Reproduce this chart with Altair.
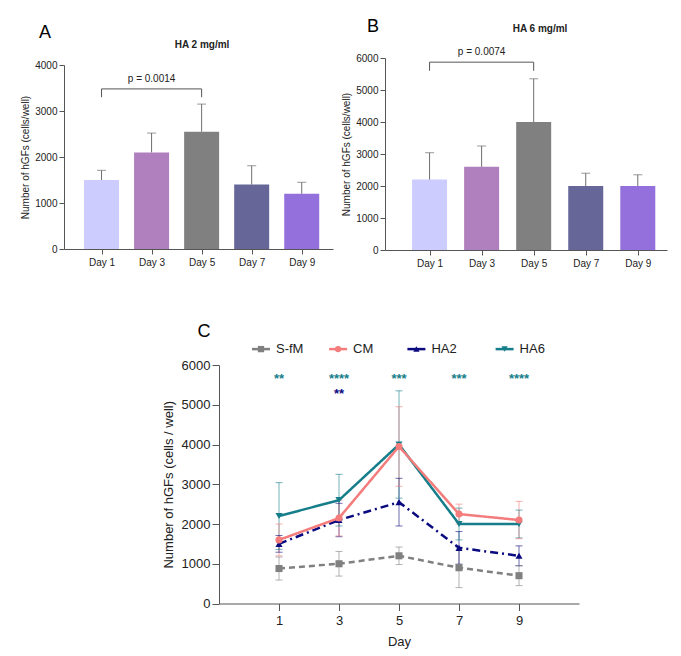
import altair as alt
import pandas as pd

# ---------------- data ----------------
days = [1, 3, 5, 7, 9]
day_colors = ["#CCCCFF", "#B07FBD", "#808080", "#666699", "#9370DB"]

ha2_mean = [1500, 2100, 2550, 1400, 1200]
ha2_sd = [210, 420, 600, 410, 250]
ha6_mean = [2200, 2600, 4000, 2000, 2000]
ha6_sd = [840, 650, 1350, 400, 350]
sfm_mean = [880, 1000, 1200, 900, 700]
sfm_sd = [290, 310, 220, 500, 250]
cm_mean = [1600, 2150, 3950, 2250, 2100]
cm_sd = [400, 450, 1000, 250, 470]

series_names = ["S-fM", "CM", "HA2", "HA6"]
series_colors = ["#808080", "#F47C7C", "#0A0A80", "#167E8A"]
series_dash = [[6, 4], [1, 0], [8, 4, 2, 4], [1, 0]]
series_shapes = ["square", "circle", "triangle-up", "triangle-down"]
draw_order = ["S-fM", "HA2", "HA6", "CM"]  # CM drawn on top

stars_ha6 = ["**", "****", "***", "***", "****"]
stars_ha2 = ["", "**", "", "", ""]

bracket_a = {"x1": 1, "x2": 5, "y": 3480, "tip": 3300, "label": "p = 0.0014"}
bracket_b = {"x1": 1, "x2": 5, "y": 5870, "tip": 5600, "label": "p = 0.0074"}

# ---------------- layout / style ----------------
W, H = 681, 656
FONT = "Liberation Sans"
AXC = "#555555"
ERR = "#6E6E6E"
TXT = "#222222"

# legend slots for panel C (in panel-C x units), and legend row height
legend_slots = [0.4, 2.97, 5.58, 8.52]
legend_half = 0.3
legend_row_y = 6400
star_row_y = {"HA6": 5750, "HA2": 5370}


def bar_panel(mean, sd, br, xdom, xr, yr, ymax, title, letter, title_pos, letter_pos):
    df = pd.DataFrame({"day": days, "mean": mean, "sd": sd, "color": day_colors})
    df["top"] = df["mean"] + df["sd"]
    xs = alt.Scale(domain=xdom, range=xr, nice=False, zero=False)
    ys = alt.Scale(domain=[0, ymax], range=yr, nice=False)
    xaxis = alt.Axis(orient="bottom", offset=yr[0] - H, values=days,
                     labelExpr="'Day ' + datum.label", title=None, tickSize=5,
                     labelFontSize=10, labelPadding=3, labelFlush=False)
    yaxis = alt.Axis(orient="left", offset=-xr[0], values=list(range(0, ymax + 1, 1000)),
                     format="d", title="Number of hGFs (cells/well)", tickSize=5,
                     labelFontSize=10, labelPadding=2, titleFontSize=10, titlePadding=4)

    def X(f):
        return alt.X(f, scale=xs, axis=xaxis)

    def Y(f, **kw):
        return alt.Y(f, scale=ys, axis=yaxis, **kw)

    base = alt.Chart(df)
    bars = base.mark_bar(size=35).encode(
        x=X("day:Q"), y=Y("mean:Q", stack=None),
        color=alt.Color("color:N", scale=None),
    )
    err = base.mark_rule(color=ERR, strokeWidth=1).encode(
        x=X("day:Q"), y=Y("mean:Q"), y2="top:Q")
    cap = base.mark_tick(orient="horizontal", size=9, thickness=1, color=ERR).encode(
        x=X("day:Q"), y=Y("top:Q"))
    bdf = pd.DataFrame([br])
    hline = alt.Chart(bdf).mark_rule(color=AXC, strokeWidth=1).encode(
        x=X("x1:Q"), x2="x2:Q", y=Y("y:Q"))
    tdf = pd.DataFrame({"x": [br["x1"], br["x2"]], "lo": [br["tip"]] * 2, "hi": [br["y"]] * 2})
    tips = alt.Chart(tdf).mark_rule(color=AXC, strokeWidth=1).encode(
        x=X("x:Q"), y=Y("lo:Q"), y2="hi:Q")
    ptxt = alt.Chart(bdf).transform_calculate(mid="(datum.x1 + datum.x2) / 2").mark_text(
        dy=-10, fontSize=10, color=TXT, baseline="middle"
    ).encode(x=X("mid:Q"), y=Y("y:Q"), text="label:N")
    tt = alt.Chart(pd.DataFrame({"t": [title]})).mark_text(
        fontSize=10, fontWeight="bold", color=TXT, baseline="middle"
    ).encode(text="t:N", x=alt.value(title_pos[0]), y=alt.value(title_pos[1]))
    lt = alt.Chart(pd.DataFrame({"t": [letter]})).mark_text(
        fontSize=18, color="#000000", baseline="middle"
    ).encode(text="t:N", x=alt.value(letter_pos[0]), y=alt.value(letter_pos[1]))
    return alt.layer(bars, err, cap, hline, tips, ptxt, tt, lt)


panel_a = bar_panel(ha2_mean, ha2_sd, bracket_a, [-0.3, 10.05], [64, 333], [249, 65], 4000,
                    "HA 2 mg/ml", "A", (202, 45), (45, 33))
panel_b = bar_panel(ha6_mean, ha6_sd, bracket_b, [-0.52, 9.93], [385, 667], [250, 58], 6000,
                    "HA 6 mg/ml", "B", (540, 29), (373, 27))

# ---------------- panel C ----------------
series_data = {
    "S-fM": (sfm_mean, sfm_sd), "CM": (cm_mean, cm_sd),
    "HA2": (ha2_mean, ha2_sd), "HA6": (ha6_mean, ha6_sd),
}
rows = []
for name in draw_order:
    m, s = series_data[name]
    for d, mv, sv in zip(days, m, s):
        rows.append({"series": name, "day": d, "mean": mv, "lo": mv - sv, "hi": mv + sv})
dfc = pd.DataFrame(rows)

cxr, cyr = [219, 579], [603.5, 365]
cxs = alt.Scale(domain=[-1, 11], range=cxr, nice=False, zero=False)
cys = alt.Scale(domain=[0, 6000], range=cyr, nice=False)
cscale = alt.Scale(domain=series_names, range=series_colors)
dscale = alt.Scale(domain=series_names, range=series_dash)
sscale = alt.Scale(domain=series_names, range=series_shapes)

cx_axis = alt.Axis(orient="bottom", offset=cyr[0] - H, values=days, title="Day", tickSize=7,
                   labelFontSize=13, labelPadding=4, titleFontSize=13, titlePadding=8,
                   labelFlush=False)
cy_axis = alt.Axis(orient="left", offset=-cxr[0], values=list(range(0, 6001, 1000)),
                   format="d", title="Number of hGFs (cells / well)", tickSize=7,
                   labelFontSize=13, labelPadding=2, titleFontSize=13, titlePadding=6)


def cx(field):
    return alt.X(field, scale=cxs, axis=cx_axis)


def cy(field):
    return alt.Y(field, scale=cys, axis=cy_axis)


ccol = alt.Color("series:N", scale=cscale, legend=None)

basec = alt.Chart(dfc)
c_err = basec.mark_rule(strokeWidth=1, opacity=0.6).encode(
    x=cx("day:Q"), y=cy("lo:Q"), y2="hi:Q", color=ccol)
c_cap_lo = basec.mark_tick(orient="horizontal", size=7, thickness=1, opacity=0.6).encode(
    x=cx("day:Q"), y=cy("lo:Q"), color=ccol)
c_cap_hi = basec.mark_tick(orient="horizontal", size=7, thickness=1, opacity=0.6).encode(
    x=cx("day:Q"), y=cy("hi:Q"), color=ccol)
c_line = basec.mark_line(strokeWidth=2.5).encode(
    x=cx("day:Q"), y=cy("mean:Q"), color=ccol,
    strokeDash=alt.StrokeDash("series:N", scale=dscale, legend=None),
)
c_pts = basec.mark_point(filled=True, size=50, opacity=1).encode(
    x=cx("day:Q"), y=cy("mean:Q"), color=ccol,
    shape=alt.Shape("series:N", scale=sscale, legend=None),
)

star_df = pd.DataFrame({
    "day": days * 2,
    "txt": stars_ha6 + stars_ha2,
    "series": ["HA6"] * 5 + ["HA2"] * 5,
})
c_stars = alt.Chart(star_df).transform_calculate(
    y=f"datum.series === 'HA6' ? {star_row_y['HA6']} : {star_row_y['HA2']}"
).mark_text(fontSize=13, fontWeight="bold", baseline="middle", dy=4).encode(
    x=cx("day:Q"), y=cy("y:Q"), text="txt:N", color=ccol,
)

# legend (line + marker + label)
leg_df = pd.DataFrame({"series": series_names, "lx": legend_slots})
leg_base = alt.Chart(leg_df).transform_calculate(
    l0=f"datum.lx - {legend_half}", l1=f"datum.lx + {legend_half}", ly=f"{legend_row_y}"
)
leg_line = leg_base.mark_rule(strokeWidth=2.5).encode(
    x=cx("l0:Q"), x2="l1:Q", y=cy("ly:Q"), color=ccol)
leg_pt = leg_base.mark_point(filled=True, size=40, opacity=1).encode(
    x=cx("lx:Q"), y=cy("ly:Q"), color=ccol,
    shape=alt.Shape("series:N", scale=sscale, legend=None))
leg_txt = leg_base.mark_text(align="left", baseline="middle", dx=15, fontSize=13, color=TXT).encode(
    x=cx("lx:Q"), y=cy("ly:Q"), text="series:N")

c_letter = alt.Chart(pd.DataFrame({"t": ["C"]})).mark_text(
    fontSize=18, color="#000000", baseline="middle"
).encode(text="t:N", x=alt.value(204), y=alt.value(332))

panel_c = alt.layer(c_err, c_cap_lo, c_cap_hi, c_line, c_pts, c_stars,
                    leg_line, leg_pt, leg_txt, c_letter)

chart = alt.layer(panel_a, panel_b, panel_c).resolve_scale(
    x="independent", y="independent"
).properties(
    width=W, height=H, autosize=alt.AutoSizeParams(type="none"), padding=0,
    background="white",
).configure(font=FONT).configure_view(stroke=None).configure_axis(
    domainColor=AXC, tickColor=AXC, labelColor=TXT, titleColor=TXT,
    titleFontWeight="normal", grid=False, labelFont=FONT, titleFont=FONT,
)

chart.save("out.html", embed_options={"renderer": "svg", "actions": False})
